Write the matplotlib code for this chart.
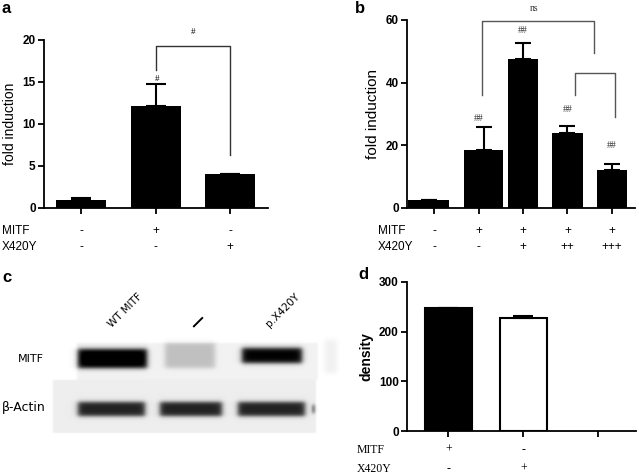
import numpy as np
import matplotlib
matplotlib.use('Agg')
import matplotlib.pyplot as plt

plt.rcParams['font.family'] = ['Liberation Sans', 'DejaVu Sans']

W, H = 639, 474

# panel a
a_vals = [1.0, 12.2, 4.0]
a_err = [0.2, 2.6, 0.05]
a_mitf = ['-', '+', '-']
a_x420y = ['-', '-', '+']

# panel b
b_vals = [2.5, 18.5, 47.5, 24.0, 12.1]
b_err = [0.2, 7.3, 5.2, 2.2, 1.9]
b_mitf = ['-', '+', '+', '+', '+']
b_x420y = ['-', '-', '+', '++', '+++']
b_marks = ['', '##', '##', '##', '##']
b_mark_y = [0, 28.7, 56.5, 31.3, 19.8]

# panel c (western blot)
blot_lanes = ['WT MITF', '\u2014', 'p.X420Y']
mitf_band = [1.0, 0.2, 0.95]
actin_band = [0.8, 0.8, 0.8]

# panel d
d_vals = [247, 227]
d_err = [0, 4]
d_mitf = ['+', '-']
d_x420y = ['-', '+']


def frac(x0, y0, x1, y1):
    return [x0 / W, 1 - y1 / H, (x1 - x0) / W, (y1 - y0) / H]


def style(ax, ylim, yticks, xlim, nticks):
    ax.set_xlim(*xlim)
    ax.set_ylim(*ylim)
    ax.set_yticks(yticks)
    ax.set_xticks(range(nticks))
    ax.set_xticklabels([])
    for s in ['top', 'right']:
        ax.spines[s].set_visible(False)
    for s in ['left', 'bottom']:
        ax.spines[s].set_linewidth(1.3)
    ax.tick_params(direction='out', length=4, width=1.3, labelsize=8.5, pad=2)
    for t in ax.get_yticklabels():
        t.set_fontweight('bold')


def rows(ax, rows_vals, offsets, label_x, family='Liberation Sans', size=8.5):
    names = ['MITF', 'X420Y']
    y0 = ax.get_position().y0 * H
    for name, vals, off in zip(names, rows_vals, offsets):
        yy = 1 - (H - y0 + off) / H
        fig.text(label_x / W, yy, name, ha='left', va='center',
                 family=family, fontsize=size)
        for i, v in enumerate(vals):
            ax.annotate(v, xy=(i, 0), xycoords=('data', 'axes fraction'),
                        xytext=(0, -off * 0.72), textcoords='offset points',
                        ha='center', va='center', family=family, fontsize=size,
                        annotation_clip=False)


def bracket(ax, x1, x2, ytop, yl, yr, color='#333333', lw=1.0):
    ax.plot([x1, x1, x2, x2], [yl, ytop, ytop, yr], color=color, lw=lw,
            clip_on=False)


def box(v, lo, hi, s=2.0):
    return 1 / (1 + np.exp(-(v - lo) / s)) / (1 + np.exp(-(hi - v) / s))


fig = plt.figure(figsize=(W / 100, H / 100), dpi=100)

# ---- panel c: blot drawn on a pixel-coordinate overlay
ax_c = fig.add_axes([0, 0, 1, 1], zorder=-1)
ax_c.set_xlim(0, W)
ax_c.set_ylim(H, 0)
ax_c.axis('off')

xs = np.arange(45, 341) + 0.5
ys = np.arange(335, 441) + 0.5
X, Y = np.meshgrid(xs, ys)
img = np.ones_like(X)
img -= 0.05 * box(X, 77, 318, 0.5) * box(Y, 343, 380, 0.5)
img -= 0.07 * box(X, 53, 316, 0.5) * box(Y, 380, 433, 0.5)
img -= 0.06 * box(X, 325, 337, 1.5) * box(Y, 340, 373, 1.5)
mitf_x = [(78, 147), (165, 215), (242, 302)]
mitf_y = [(349, 368), (343, 368), (348, 363)]
actin_x = [(78, 145), (160, 222), (238, 305)]
for i in range(3):
    img -= mitf_band[i] * box(X, *mitf_x[i], 1.6) * box(Y, *mitf_y[i], 1.3)
    img -= actin_band[i] * box(X, *actin_x[i], 1.6) * box(Y, 402, 416, 1.2)
img -= 0.5 * box(X, 312, 315, 0.8) * box(Y, 405, 413, 1.0)
img = np.clip(img, 0, 1)
ax_c.imshow(img, cmap='gray', vmin=0, vmax=1, extent=(45, 341, 441, 335),
            interpolation='bilinear', aspect='auto')

lane_cx = [125, 198, 283]
lane_cy = [310, 322, 310]
for name, cx, cy in zip(blot_lanes, lane_cx, lane_cy):
    ax_c.text(cx, cy, name, rotation=45, ha='center', va='center',
              family='DejaVu Sans', fontsize=7.5 if name != '\u2014' else 11,
              fontweight='bold' if name == '\u2014' else 'normal')
ax_c.text(18, 359, 'MITF', ha='left', va='center', family='DejaVu Sans', fontsize=8)
ax_c.text(2, 407, '\u03b2-Actin', ha='left', va='center', family='DejaVu Sans',
          fontsize=9)

# ---- panel a
ax_a = fig.add_axes(frac(44, 40, 268, 208))
xa = np.arange(len(a_vals))
ax_a.bar(xa, a_vals, width=0.67, color='black', zorder=2)
ax_a.errorbar(xa, a_vals, yerr=[np.zeros(3), a_err], fmt='none', ecolor='black',
              elinewidth=1.5, capsize=7, capthick=1.5, zorder=3)
style(ax_a, (0, 20), [0, 5, 10, 15, 20], (-0.5, 2.51), 3)
ax_a.set_ylabel('fold induction', fontsize=10, labelpad=4)
bracket(ax_a, 1, 2, 19.3, 16.4, 6.3)
ax_a.text(1.5, 21.0, '#', ha='center', va='center', fontsize=6.5,
          family='Liberation Serif', clip_on=False)
ax_a.text(1.02, 15.3, '#', ha='center', va='center', fontsize=6.5,
          family='Liberation Serif')
rows(ax_a, [a_mitf, a_x420y], [23, 39], 2)

# ---- panel b
ax_b = fig.add_axes(frac(407, 20, 635, 208))
xb = np.arange(len(b_vals))
shift = np.array([-0.12, 0.12, 0, 0, 0])
widths = [0.92, 0.88, 0.68, 0.68, 0.68]
ax_b.bar(xb + shift, b_vals, width=widths, color='black', zorder=2)
ax_b.errorbar(xb + shift, b_vals, yerr=[np.zeros(5), b_err], fmt='none',
              ecolor='black', elinewidth=1.5, capsize=6, capthick=1.5, zorder=3)
style(ax_b, (0, 60), [0, 20, 40, 60], (-0.61, 4.52), 5)
ax_b.set_ylabel('fold induction', fontsize=11, labelpad=4)
for i, (m, y) in enumerate(zip(b_marks, b_mark_y)):
    if m:
        ax_b.text(i, y, m, ha='center', va='center', fontsize=7,
                  family='Liberation Serif', color='#333333', clip_on=False)
bracket(ax_b, 1.07, 3.6, 59.7, 36, 49.5, color='#555555')
bracket(ax_b, 3.16, 4.07, 43, 36, 29, color='#555555')
ax_b.text(2.25, 63.8, 'ns', ha='center', va='center', fontsize=7,
          family='Liberation Serif', color='#333333', clip_on=False)
rows(ax_b, [b_mitf, b_x420y], [23, 39], 378)

# ---- panel d
ax_d = fig.add_axes(frac(407, 282, 636, 431))
xd = np.arange(len(d_vals))
ax_d.bar(xd, d_vals, width=0.63, color=['black', 'white'], edgecolor='black',
         linewidth=1.5, zorder=2)
ax_d.errorbar(xd, d_vals, yerr=[np.zeros(2), d_err], fmt='none', ecolor='black',
              elinewidth=1.5, capsize=7, capthick=1.5, zorder=3)
style(ax_d, (0, 300), [0, 100, 200, 300], (-0.55, 2.5), 3)
ax_d.set_ylabel('density', fontsize=10, fontweight='bold', labelpad=4)
rows(ax_d, [d_mitf, d_x420y], [19, 38], 357, family='Liberation Serif', size=8.5)

# panel letters
for lab, x, y in [('a', 1, 13), ('b', 355, 13), ('c', 2, 282), ('d', 358, 279)]:
    fig.text(x / W, 1 - y / H, lab, fontsize=12, fontweight='bold',
             ha='left', va='baseline')

fig.savefig('out.png', dpi=100)
